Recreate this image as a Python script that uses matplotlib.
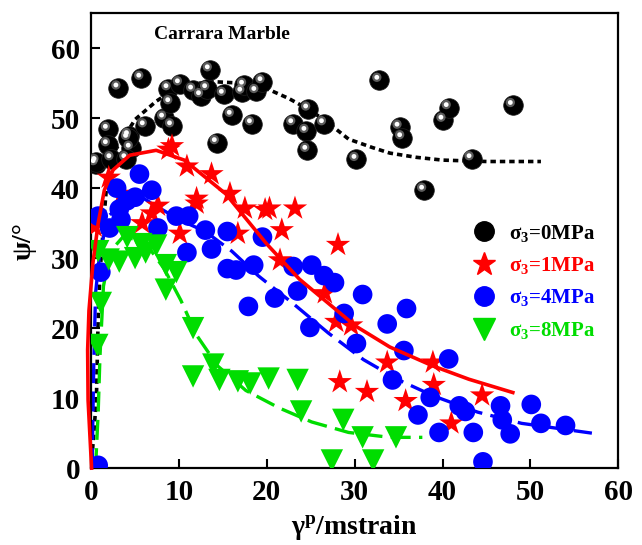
import matplotlib
matplotlib.use("Agg")
import matplotlib.pyplot as plt
import matplotlib.transforms as mtransforms
from matplotlib.lines import Line2D

plt.rcParams['font.family'] = ['Liberation Serif', 'DejaVu Serif']
plt.rcParams['font.weight'] = 'bold'
plt.rcParams['mathtext.fontset'] = 'custom'
plt.rcParams['mathtext.rm'] = 'Liberation Serif:bold'
plt.rcParams['mathtext.it'] = 'Liberation Serif:bold'
plt.rcParams['mathtext.bf'] = 'Liberation Serif:bold'

# ---------------- data ----------------
# sigma3 = 0 MPa (black spheres)
x0 = [0.5, 0.6, 1.9, 1.9, 2.3, 3.1, 4.3, 4.5, 4.0, 4.2, 5.7, 6.1, 8.3, 8.8, 9.0, 9.2,
      10.1, 11.6, 12.5, 13.2, 13.5, 14.3, 15.1, 16.0, 17.2, 17.4, 18.3, 18.8, 19.5,
      23.0, 24.7, 24.5, 24.6, 26.5, 30.2, 32.8, 35.1, 35.4, 37.9, 40.1, 40.7, 43.3, 48.0]
y0 = [43.5, 43.8, 48.4, 46.2, 44.2, 54.3, 47.5, 45.7, 44.2, 47.1, 55.7, 48.9, 50.0, 54.2, 52.2, 48.9,
      54.9, 54.0, 53.2, 54.2, 56.9, 46.5, 53.4, 50.4, 53.7, 54.7, 49.2, 53.8, 55.2,
      49.2, 51.3, 48.1, 45.4, 49.2, 44.1, 55.4, 48.7, 47.2, 39.7, 49.7, 51.5, 44.2, 51.8]

# sigma3 = 1 MPa (red stars)
x1 = [0.4, 2.0, 3.5, 5.8, 6.9, 7.6, 8.8, 9.2, 10.1, 10.9, 12.0, 12.0, 13.7, 15.8, 16.7,
      17.5, 19.8, 20.3, 21.7, 21.5, 23.2, 26.6, 28.1, 27.9, 29.6, 28.3, 31.4, 33.7,
      35.8, 38.9, 39.0, 41.0, 44.5]
y1 = [34.5, 41.5, 39.2, 35.0, 36.4, 37.5, 45.5, 46.0, 33.5, 43.1, 38.5, 37.8, 42.0, 39.2, 33.5,
      37.1, 36.9, 37.1, 34.0, 29.7, 37.1, 25.0, 31.9, 20.9, 20.4, 12.3, 10.9, 15.1,
      9.6, 15.1, 11.9, 6.4, 10.4]

# sigma3 = 4 MPa (blue circles)
x4 = [0.8, 0.8, 1.1, 2.1, 2.9, 3.2, 3.4, 4.1, 5.5, 5.0, 6.9, 7.6, 9.7, 11.1, 10.9, 13.0,
      13.7, 15.5, 15.5, 16.5, 18.5, 19.5, 17.9, 20.9, 23.0, 23.5, 25.1, 26.5, 27.7, 24.9,
      28.8, 30.9, 30.2, 33.7, 35.9, 35.6, 34.3, 40.7, 37.2, 38.6, 39.6, 41.9, 42.6, 43.5,
      44.6, 46.6, 46.8, 47.7, 50.1, 51.2, 54.0]
y4 = [0.4, 36.0, 28.0, 34.3, 40.0, 37.0, 35.5, 38.2, 42.0, 38.7, 39.7, 34.3, 36.0, 36.0, 30.8, 34.0,
      31.3, 33.8, 28.5, 28.3, 29.0, 33.0, 23.1, 24.3, 28.8, 25.3, 29.0, 27.5, 26.5, 20.1,
      22.1, 24.8, 17.8, 20.6, 22.8, 16.8, 12.6, 15.6, 7.6, 10.1, 5.1, 8.9, 8.1, 5.1,
      0.9, 8.9, 6.9, 4.9, 9.1, 6.4, 6.1]

# sigma3 = 8 MPa (green triangles)
x8 = [0.7, 1.1, 0.8, 2.0, 3.2, 4.1, 5.0, 5.7, 6.2, 7.4, 8.5, 9.7, 8.5, 11.6, 11.6, 13.9,
      14.6, 16.7, 18.1, 20.2, 23.5, 23.9, 28.7, 27.4, 30.9, 32.1, 34.7]
y8 = [17.6, 23.6, 31.0, 29.8, 29.5, 33.0, 30.0, 32.0, 30.8, 31.8, 29.0, 28.0, 25.5, 20.0, 13.1, 14.8,
      12.6, 12.4, 12.1, 12.8, 12.6, 8.1, 6.9, 1.1, 4.4, 1.1, 4.4]

# fitted curves
cx0 = [0.0, 0.6, 0.8, 1.0, 1.5, 1.8, 2.5, 3.6, 5.0, 7.4, 10.2, 13.9, 17.0, 20.0, 22.5,
       25.1, 27.5, 29.3, 32.0, 34.0, 37.0, 40.0, 45.0, 51.2]
cy0 = [0.0, 10.0, 21.6, 27.8, 36.4, 41.0, 45.0, 47.0, 49.8, 52.4, 54.7, 55.2, 55.0, 54.2, 52.8,
       51.0, 48.8, 47.0, 45.8, 45.0, 44.4, 44.0, 43.8, 43.8]

cx1 = [0.05, -0.35, -0.4, -0.25, 0.2, 0.8, 1.5, 2.5, 4.4, 7.4, 10.6, 15.3, 20.0, 23.7,
       30.1, 34.0, 38.9, 43.0, 48.0]
cy1 = [0.0, 9.7, 16.9, 22.5, 29.3, 35.0, 39.7, 42.6, 44.7, 45.4, 44.0, 39.2, 32.0, 27.0,
       20.3, 17.3, 14.6, 12.7, 10.8]

cx4 = [0.1, 0.3, 0.5, 1.0, 2.0, 4.0, 6.0, 8.0, 10.0, 13.0, 16.0, 19.0, 23.0, 27.0, 31.0,
       35.0, 39.0, 44.0, 49.0, 53.0, 57.0]
cy4 = [0.0, 15.0, 25.0, 31.0, 36.0, 38.5, 38.5, 37.0, 35.5, 33.8, 31.0, 27.5, 23.5, 19.3, 15.5,
       12.6, 10.3, 8.0, 6.4, 5.7, 5.0]

cx8 = [0.5, 0.8, 1.0, 1.4, 2.2, 3.6, 6.0, 8.3, 10.2, 12.0, 14.4, 17.6, 21.4, 25.1, 29.3,
       34.0, 37.7]
cy8 = [0.0, 8.0, 15.9, 26.0, 31.0, 33.0, 32.5, 28.5, 24.0, 19.0, 14.6, 11.1, 8.6, 6.6, 5.1,
       4.4, 4.4]

labels = ['σ$_3$=0MPa', 'σ$_3$=1MPa', 'σ$_3$=4MPa', 'σ$_3$=8MPa']
c_black, c_red, c_blue, c_green = '#000000', '#ff0000', '#0000ff', '#00dd00'

# ---------------- figure ----------------
fig = plt.figure(figsize=(6.42, 5.45), dpi=100)
ax = fig.add_axes([0.142, 0.141, 0.821, 0.835])

ax.plot(cx0, cy0, color=c_black, lw=2.6, ls=(0, (1.5, 1.1)), zorder=2)
ax.plot(cx4, cy4, color=c_blue, lw=2.4, ls=(0, (6, 2.5)), zorder=2)
ax.plot(cx8, cy8, color=c_green, lw=2.4, ls=(0, (6, 2.5)), zorder=2)

# spheres
ax.scatter(x0, y0, s=200, c=c_black, edgecolors='#222222', linewidths=0.5, zorder=3)
hl = mtransforms.offset_copy(ax.transData, fig=fig, x=-2.5, y=3.0, units='dots')
ax.scatter(x0, y0, s=45, c='#9a9a9a', edgecolors='none', transform=hl, zorder=3.1, alpha=0.6)
ax.scatter(x0, y0, s=12, c='white', edgecolors='none', transform=hl, zorder=3.2)

ax.scatter(x1, y1, s=340, marker='*', c=c_red, edgecolors='none', zorder=4)
ax.scatter(x4, y4, s=200, marker='o', c=c_blue, edgecolors='none', zorder=5)
ax.scatter(x8, y8, s=260, marker='v', c=c_green, edgecolors='none', zorder=6)

ax.plot(cx1, cy1, color=c_red, lw=2.6, zorder=7, clip_on=False)

ax.set_xlim(0, 60)
ax.set_ylim(0, 65)
ax.set_xticks([0, 10, 20, 30, 40, 50, 60])
ax.set_yticks([0, 10, 20, 30, 40, 50, 60])
ax.tick_params(direction='in', length=6.5, width=1.5, labelsize=21, pad=8,
               top=False, right=False)
for sp in ax.spines.values():
    sp.set_linewidth(1.6)
for lab in ax.get_xticklabels() + ax.get_yticklabels():
    lab.set_fontweight('bold')

ax.set_xlabel('γ$^{p}$/mstrain', fontsize=20, fontweight='bold', labelpad=5)
ax.set_ylabel('ψ/°', fontsize=20, fontweight='bold', labelpad=10)

ax.text(7.2, 61.9, 'Carrara Marble', fontsize=14, fontweight='bold', va='center', ha='left')

handles = [
    Line2D([], [], ls='none', marker='o', ms=14, color=c_black),
    Line2D([], [], ls='none', marker='*', ms=17, color=c_red),
    Line2D([], [], ls='none', marker='o', ms=14, color=c_blue),
    Line2D([], [], ls='none', marker='v', ms=16, color=c_green),
]
leg = ax.legend(handles, labels, loc='upper left', bbox_to_anchor=(0.705, 0.558),
                frameon=False, fontsize=15, handletextpad=0.6, labelspacing=0.55,
                handlelength=1.2, borderaxespad=0)
for t, c in zip(leg.get_texts(), [c_black, c_red, c_blue, c_green]):
    t.set_color(c)
    t.set_fontweight('bold')

fig.savefig('out.png', dpi=100)
